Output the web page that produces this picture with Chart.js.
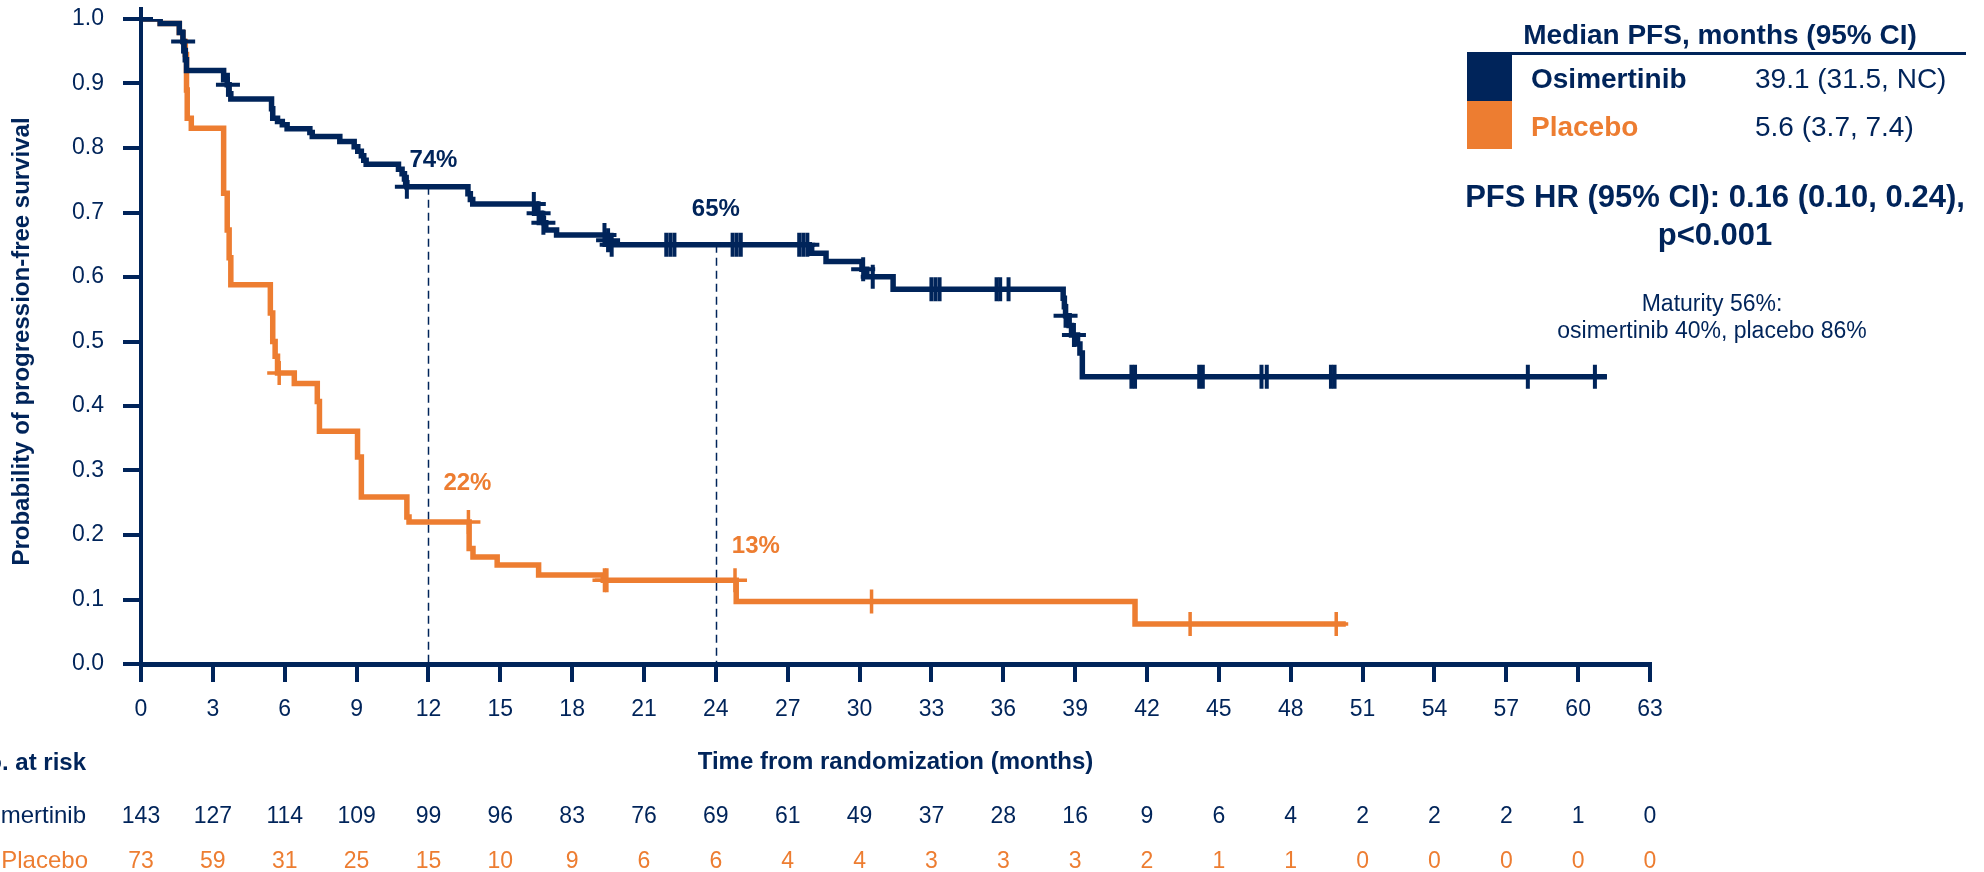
<!DOCTYPE html>
<html>
<head>
<meta charset="utf-8">
<title>Progression-free survival</title>
<script src="https://cdn.jsdelivr.net/npm/chart.js@4.4.1/dist/chart.umd.min.js"></script>
<style>
  html, body { margin: 0; padding: 0; background: #ffffff; }
  #wrap { position: relative; width: 1984px; height: 872px; }
</style>
</head>
<body>
<div id="wrap"><canvas id="km" width="1984" height="872"></canvas></div>
<script>
// ---- Data -------------------------------------------------------------
const monthTicks = [0, 3, 6, 9, 12, 15, 18, 21, 24, 27, 30, 33, 36, 39, 42, 45, 48, 51, 54, 57, 60, 63];
const probTicks = ['0.0', '0.1', '0.2', '0.3', '0.4', '0.5', '0.6', '0.7', '0.8', '0.9', '1.0'];

// Kaplan-Meier step points: time (months) and survival after the step
const osiTimes = [0, 0.8, 1.6, 1.75, 1.8, 1.85, 1.9, 3.45, 3.6, 3.68, 3.75, 5.45, 5.5, 5.7, 5.9, 6.1,
  7.05, 7.15, 8.3, 8.9, 9.05, 9.2, 9.3, 9.4, 10.75, 10.9, 11.0, 11.05, 11.1, 13.65, 13.75, 13.85,
  16.5, 16.7, 16.8, 16.9, 17.35, 19.4, 19.6, 27.9, 28.0, 28.6, 30.1, 30.3, 31.4,
  38.5, 38.55, 38.6, 38.75, 38.85, 39.1, 39.2, 39.3, 61.2];
const osiSurv = [1.0, 0.993, 0.979, 0.965, 0.951, 0.937, 0.92, 0.906, 0.898, 0.884, 0.876, 0.861, 0.846, 0.841, 0.836, 0.83,
  0.824, 0.818, 0.81, 0.802, 0.795, 0.788, 0.781, 0.775, 0.767, 0.76, 0.752, 0.746, 0.74, 0.729, 0.72, 0.713,
  0.699, 0.691, 0.684, 0.673, 0.665, 0.657, 0.65, 0.644, 0.637, 0.624, 0.612, 0.6005, 0.581,
  0.567, 0.554, 0.54, 0.525, 0.51, 0.496, 0.482, 0.4455, 0.4455];
const osiCensor = [0, 1.76, 3.63, 11.1, 16.4, 16.6, 16.8, 19.35, 19.5, 19.65, 21.93, 22.1, 22.27,
  24.7, 24.87, 25.04, 27.48, 27.65, 27.82, 33.0, 33.17, 33.34, 30.15, 30.55, 35.72, 35.87, 36.22,
  38.6, 38.95, 41.35, 41.5, 44.18, 44.33, 46.78, 47.0, 49.68, 49.83, 57.9, 60.7];

const plaTimes = [0, 0.8, 1.6, 1.75, 1.85, 1.9, 1.93, 2.1, 3.45, 3.6, 3.68, 3.75, 5.4, 5.5, 5.6, 5.7, 6.4,
  7.36, 7.45, 9.04, 9.2, 11.1, 11.19, 13.7, 13.86, 14.87, 16.6, 19.3, 24.85, 41.5, 50.3];
const plaSurv = [1.0, 0.993, 0.979, 0.965, 0.945, 0.89, 0.846, 0.8305, 0.73, 0.673, 0.63, 0.588, 0.544, 0.5, 0.477, 0.451, 0.435,
  0.407, 0.361, 0.321, 0.259, 0.228, 0.22, 0.179, 0.166, 0.1535, 0.138, 0.13, 0.097, 0.062, 0.062];
const plaCensor = [5.77, 13.67, 19.35, 19.45, 24.8, 30.5, 43.8, 49.9];

// Number at risk at each month tick
const osiAtRisk = [143, 127, 114, 109, 99, 96, 83, 76, 69, 61, 49, 37, 28, 16, 9, 6, 4, 2, 2, 2, 1, 0];
const plaAtRisk = [73, 59, 31, 25, 15, 10, 9, 6, 6, 4, 4, 3, 3, 3, 2, 1, 1, 0, 0, 0, 0, 0];

const landmarkMonths = [12, 24];
const armNames = ['Osimertinib', 'Placebo'];
const medianPFS = ['39.1 (31.5, NC)', '5.6 (3.7, 7.4)'];

// ---- Helpers ----------------------------------------------------------
const NAVY = '#00245a';
const ORANGE = '#ED7D31';
const FONT = "'Liberation Sans', Arial, Helvetica, sans-serif";

function stepValue(times, surv, t) {
  let s = surv[0];
  for (let i = 0; i < times.length; i++) {
    if (times[i] <= t) s = surv[i]; else break;
  }
  return s;
}
const toPoints = (times, surv) => times.map((t, i) => ({ x: t, y: surv[i] }));
const censorPoints = (cens, times, surv) => cens.map(t => ({ x: t, y: stepValue(times, surv, t) }));

// ---- Annotations drawn around the plot ---------------------------------
const kmExtras = {
  id: 'kmExtras',
  beforeDatasetsDraw(chart) {
    const { ctx, scales: { x, y } } = chart;
    ctx.save();
    ctx.strokeStyle = NAVY;
    ctx.lineWidth = 1.5;
    ctx.setLineDash([8, 5]);
    landmarkMonths.forEach(m => {
      const px = Math.round(x.getPixelForValue(m)) + 0.5;
      ctx.beginPath();
      ctx.moveTo(px, y.getPixelForValue(stepValue(osiTimes, osiSurv, m)));
      ctx.lineTo(px, y.getPixelForValue(0));
      ctx.stroke();
    });
    ctx.restore();
  },
  afterDraw(chart) {
    const { ctx, scales: { x, y } } = chart;
    ctx.save();

    // landmark percentages
    const arms = [
      { times: osiTimes, surv: osiSurv, color: NAVY, offs: [[5, 26], [0, 35]] },
      { times: plaTimes, surv: plaSurv, color: ORANGE, offs: [[39, 39], [40, 34]] }
    ];
    ctx.font = 'bold 24px ' + FONT;
    ctx.textAlign = 'center';
    ctx.textBaseline = 'middle';
    arms.forEach(a => {
      landmarkMonths.forEach((m, i) => {
        const v = stepValue(a.times, a.surv, m);
        ctx.fillStyle = a.color;
        ctx.fillText(Math.round(v * 100) + '%',
          x.getPixelForValue(m) + a.offs[i][0], y.getPixelForValue(v) - a.offs[i][1]);
      });
    });

    // number at risk table
    ctx.textBaseline = 'alphabetic';
    ctx.textAlign = 'right';
    ctx.fillStyle = NAVY;
    ctx.font = 'bold 24px ' + FONT;
    ctx.fillText('No. at risk', 86, 770);
    ctx.font = '24px ' + FONT;
    ctx.fillText(armNames[0], 86, 823);
    ctx.fillStyle = ORANGE;
    ctx.fillText(armNames[1], 88, 868);
    ctx.font = '23px ' + FONT;
    ctx.textAlign = 'center';
    monthTicks.forEach((m, i) => {
      const px = x.getPixelForValue(m);
      ctx.fillStyle = NAVY;
      ctx.fillText(String(osiAtRisk[i]), px, 823);
      ctx.fillStyle = ORANGE;
      ctx.fillText(String(plaAtRisk[i]), px, 868);
    });

    // median PFS panel
    ctx.fillStyle = NAVY;
    ctx.fillRect(1467, 53, 45, 48);
    ctx.fillStyle = ORANGE;
    ctx.fillRect(1467, 101, 45, 48);
    ctx.fillStyle = NAVY;
    ctx.fillRect(1467, 52, 499, 3);

    ctx.textAlign = 'center';
    ctx.font = 'bold 28px ' + FONT;
    ctx.fillText('Median PFS, months (95% CI)', 1720, 44);

    ctx.textAlign = 'left';
    ctx.font = 'bold 28px ' + FONT;
    ctx.fillText(armNames[0], 1531, 88);
    ctx.fillStyle = ORANGE;
    ctx.fillText(armNames[1], 1531, 136);
    ctx.fillStyle = NAVY;
    ctx.font = '28px ' + FONT;
    ctx.fillText(medianPFS[0], 1755, 88);
    ctx.fillText(medianPFS[1], 1755, 136);

    ctx.textAlign = 'center';
    ctx.font = 'bold 31px ' + FONT;
    ctx.fillText('PFS HR (95% CI): 0.16 (0.10, 0.24),', 1715, 207);
    ctx.fillText('p<0.001', 1715, 245);
    ctx.font = '23px ' + FONT;
    ctx.fillText('Maturity 56%:', 1712, 311);
    ctx.fillText('osimertinib 40%, placebo 86%', 1712, 338);

    ctx.restore();
  }
};

const axisGrid = { display: true, drawOnChartArea: false, drawTicks: true, tickLength: 18, lineWidth: 4, color: NAVY };

new Chart(document.getElementById('km'), {
  type: 'line',
  data: {
    datasets: [
      { label: 'Osimertinib', data: toPoints(osiTimes, osiSurv), borderColor: NAVY, borderWidth: 5.5,
        stepped: 'before', pointRadius: 0, fill: false, order: 1, borderJoinStyle: 'miter' },
      { label: 'Osimertinib censored', type: 'scatter', data: censorPoints(osiCensor, osiTimes, osiSurv),
        showLine: false, pointStyle: 'cross', pointRadius: 12, pointBorderWidth: 4,
        pointBorderColor: NAVY, borderColor: NAVY, order: 0, clip: false },
      { label: 'Placebo', data: toPoints(plaTimes, plaSurv), borderColor: ORANGE, borderWidth: 5.5,
        stepped: 'before', pointRadius: 0, fill: false, order: 3, borderJoinStyle: 'miter' },
      { label: 'Placebo censored', type: 'scatter', data: censorPoints(plaCensor, plaTimes, plaSurv),
        showLine: false, pointStyle: 'cross', pointRadius: 12, pointBorderWidth: 3.5,
        pointBorderColor: ORANGE, borderColor: ORANGE, order: 2, clip: false }
    ]
  },
  options: {
    responsive: false,
    animation: false,
    events: [],
    layout: { padding: { left: 0, top: 19, right: 334, bottom: 0 } },
    plugins: { legend: { display: false }, tooltip: { enabled: false } },
    scales: {
      x: {
        type: 'linear', min: 0, max: 63,
        afterBuildTicks: s => { s.ticks = monthTicks.map(v => ({ value: v })); },
        ticks: { color: NAVY, font: { family: FONT, size: 23 }, padding: 14, maxRotation: 0, autoSkip: false,
          callback: v => String(v) },
        grid: axisGrid,
        border: { display: true, width: 5, color: NAVY },
        title: { display: true, text: 'Time from randomization (months)', color: NAVY,
          font: { family: FONT, size: 24, weight: 'bold' }, padding: { top: 0, bottom: 95 } },
        afterFit: s => { s.height = 208; s.paddingLeft = 0; s.paddingRight = 0; }
      },
      y: {
        type: 'linear', min: 0, max: 1,
        afterBuildTicks: s => { s.ticks = probTicks.map(v => ({ value: parseFloat(v) })); },
        ticks: { color: NAVY, font: { family: FONT, size: 23 }, padding: 19,
          callback: (v, i) => probTicks[i] },
        grid: axisGrid,
        border: { display: true, width: 4, color: NAVY },
        title: { display: true, text: 'Probability of progression-free survival', color: NAVY,
          font: { family: FONT, size: 24, weight: 'bold' }, padding: { top: 8, bottom: 0 } },
        afterFit: s => { s.width = 141; s.paddingTop = 0; s.paddingBottom = 0; }
      }
    }
  },
  plugins: [kmExtras]
});
</script>
</body>
</html>
